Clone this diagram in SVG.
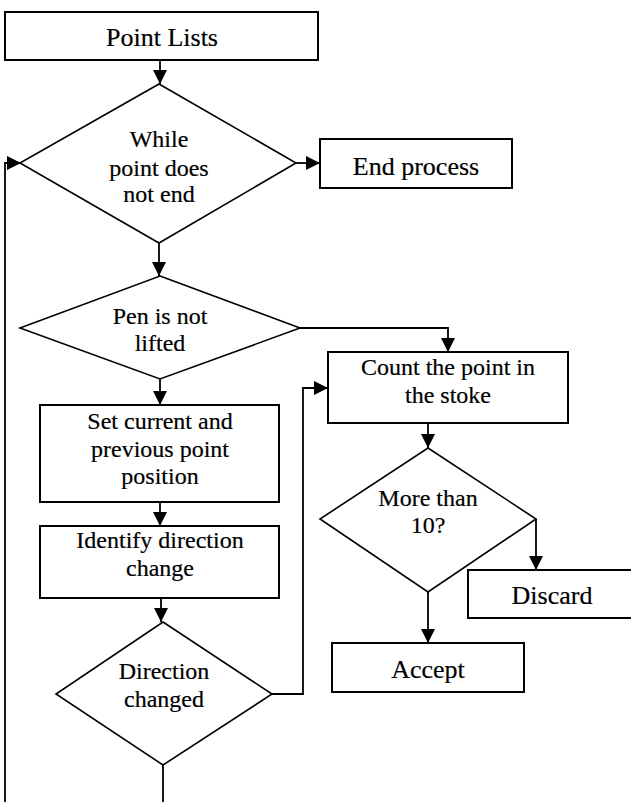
<svg xmlns="http://www.w3.org/2000/svg" width="631" height="802" viewBox="0 0 631 802">
<style>
.box{fill:#fff;stroke:#000;stroke-width:2}
.dia{fill:#fff;stroke:#000;stroke-width:1.6}
text{font-family:'Liberation Serif','Times New Roman',serif;font-size:24px;fill:#000;text-anchor:middle;stroke:#000;stroke-width:0.2}
.t1{font-size:26px}
.c{fill:none;stroke:#000;stroke-width:1.8}
</style>
<defs>
<marker id="ah" markerUnits="userSpaceOnUse" markerWidth="14" markerHeight="14" refX="14" refY="7" orient="auto">
<path d="M0,0 L14,7 L0,14 z" fill="#000"/>
</marker>
</defs>
<g id="connectors">
<path class="c" d="M160,60 V84" marker-end="url(#ah)"/>
<path class="c" d="M296,163 H320" marker-end="url(#ah)"/>
<path class="c" d="M5,802 V163 H21" marker-end="url(#ah)"/>
<path class="c" d="M159,243 V276" marker-end="url(#ah)"/>
<path class="c" d="M300,328 H448 V352" marker-end="url(#ah)"/>
<path class="c" d="M160,379 V405" marker-end="url(#ah)"/>
<path class="c" d="M160,502 V526" marker-end="url(#ah)"/>
<path class="c" d="M161,598 V622" marker-end="url(#ah)"/>
<path class="c" d="M272,694 H303 V388 H328" marker-end="url(#ah)"/>
<path class="c" d="M163,765 V802"/>
<path class="c" d="M428,423 V448" marker-end="url(#ah)"/>
<path class="c" d="M536,519 V570" marker-end="url(#ah)"/>
<path class="c" d="M428,592 V643" marker-end="url(#ah)"/>
</g>
<g id="point-lists">
<rect class="box" x="5" y="12" width="313" height="48"/>
<text class="t1" x="162" y="46">Point Lists</text>
</g>
<g id="while">
<polygon class="dia" points="159,84 296,163 159,243 20,163"/>
<text x="159" y="147">While</text>
<text x="159" y="176">point does</text>
<text x="159" y="202">not end</text>
</g>
<g id="end-process">
<rect class="box" x="320" y="139" width="192" height="49"/>
<text class="t1" x="416" y="175">End process</text>
</g>
<g id="pen">
<polygon class="dia" points="160,276 300,328 160,379 20,328"/>
<text x="160" y="324">Pen is not</text>
<text x="160" y="351">lifted</text>
</g>
<g id="count">
<rect class="box" x="328" y="352" width="240" height="71"/>
<text x="448" y="375">Count the point in</text>
<text x="448" y="403">the stoke</text>
</g>
<g id="set">
<rect class="box" x="40" y="405" width="239" height="97"/>
<text x="160" y="429">Set current and</text>
<text x="160" y="457">previous point</text>
<text x="160" y="484">position</text>
</g>
<g id="identify">
<rect class="box" x="40" y="526" width="239" height="72"/>
<text x="160" y="548">Identify direction</text>
<text x="160" y="576">change</text>
</g>
<g id="direction">
<polygon class="dia" points="163,622 272,694 163,765 56,694"/>
<text x="164" y="679">Direction</text>
<text x="164" y="707">changed</text>
</g>
<g id="more">
<polygon class="dia" points="428,448 536,519 428,592 320,519"/>
<text x="428" y="506">More than</text>
<text x="428" y="533">10?</text>
</g>
<g id="discard">
<rect class="box" x="468" y="570" width="200" height="48"/>
<text class="t1" x="552" y="604">Discard</text>
</g>
<g id="accept">
<rect class="box" x="332" y="643" width="192" height="49"/>
<text class="t1" x="428" y="678">Accept</text>
</g>
</svg>
